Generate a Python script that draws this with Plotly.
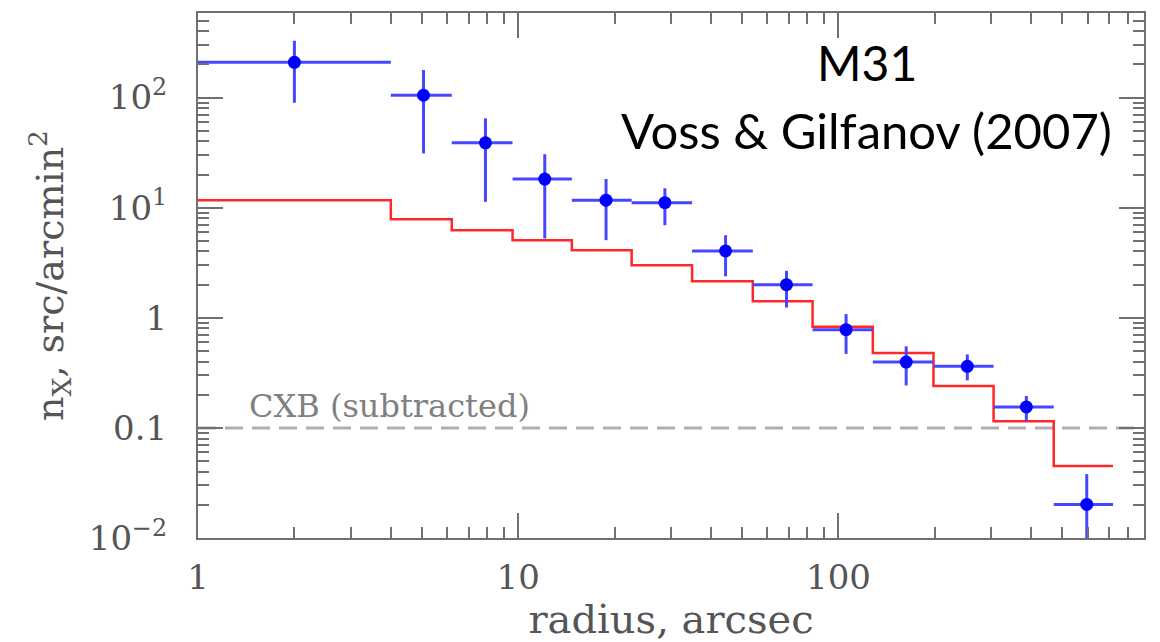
import plotly.graph_objects as go

# Bin edges (arcsec) shared by data points and model histogram
bin_edges = [1, 4.0, 6.2, 9.6, 14.7, 22.6, 34.9, 54.0, 83.0, 128, 198, 305, 470, 720]
# Observed density (blue points)
x_center = [2.0, 5.06, 7.9, 12.1, 18.8, 28.7, 44.4, 68.8, 105.6, 162.7, 252.5, 386, 596]
y_obs = [209, 105, 38.8, 18.2, 11.7, 11.1, 4.05, 2.0, 0.78, 0.396, 0.362, 0.155, 0.0202]
y_obs_hi = [328, 178, 64.7, 30.6, 18.2, 15.0, 5.62, 2.67, 1.08, 0.55, 0.465, 0.195, 0.038]
y_obs_lo = [89.7, 31.1, 11.3, 5.25, 5.07, 6.93, 2.38, 1.24, 0.47, 0.243, 0.27, 0.115, 0.008]
# Model (red histogram)
y_model = [11.7, 7.85, 6.24, 5.07, 4.11, 3.0, 2.15, 1.41, 0.83, 0.48, 0.24, 0.115, 0.045]
cxb_level = 0.1

x_tickvals = [1, 10, 100]
x_ticktext = ["1", "10", "100"]
y_tickvals = [0.01, 0.1, 1, 10, 100]
y_ticktext = ["10<sup>\u22122</sup>", "0.1", "1", "10<sup>1</sup>", "10<sup>2</sup>"]

gray_axis = "#707070"
gray_text = "#555555"
serif = "DejaVu Serif"

fig = go.Figure()

fig.add_trace(go.Scatter(
    x=bin_edges, y=y_model + [y_model[-1]],
    mode="lines", line=dict(color="rgb(255,40,40)", width=2.5, shape="hv"),
    showlegend=False, hoverinfo="skip",
))

fig.add_trace(go.Scatter(
    x=x_center, y=y_obs, mode="markers",
    marker=dict(color="#0000ff", size=13),
    error_x=dict(type="data", symmetric=False,
                 array=[hi - c for hi, c in zip(bin_edges[1:], x_center)],
                 arrayminus=[c - lo for lo, c in zip(bin_edges[:-1], x_center)],
                 color="rgb(70,70,255)", thickness=3, width=0),
    error_y=dict(type="data", symmetric=False,
                 array=[h - v for h, v in zip(y_obs_hi, y_obs)],
                 arrayminus=[v - l for l, v in zip(y_obs_lo, y_obs)],
                 color="rgb(70,70,255)", thickness=3, width=0),
    showlegend=False,
))

fig.add_shape(type="line", xref="paper", x0=0, x1=1, yref="y", y0=cxb_level, y1=cxb_level,
              line=dict(color="#b0b0b0", width=3, dash="18px,9px"), layer="below")

fig.add_annotation(text="CXB (subtracted)", xref="paper", yref="paper", x=0.052, y=0.2505,
                   xanchor="left", yanchor="middle", showarrow=False,
                   font=dict(family=serif, size=32, color="#808080"))
fig.add_annotation(text="M31", xref="paper", yref="paper", x=0.707, y=0.905,
                   xanchor="center", yanchor="middle", showarrow=False,
                   font=dict(family="Lato", size=48, color="black"))
fig.add_annotation(text="Voss &amp; Gilfanov (2007)", xref="paper", yref="paper", x=0.707, y=0.778,
                   xanchor="center", yanchor="middle", showarrow=False,
                   font=dict(family="Lato", size=49, color="black"))

axis_common = dict(
    type="log", showgrid=False, zeroline=False,
    showline=True, linecolor=gray_axis, linewidth=2, mirror="ticks",
    ticks="inside", ticklen=25, tickwidth=2, tickcolor=gray_axis,
    minor=dict(ticks="inside", ticklen=11, tickwidth=2, tickcolor=gray_axis, dtick="D1", showgrid=False),
    tickfont=dict(family=serif, size=34, color=gray_text),
)

fig.update_xaxes(**axis_common, range=[0, 2.954], tickvals=x_tickvals, ticktext=x_ticktext,
                 ticklabelstandoff=8,
                 title=dict(text="radius, arcsec", font=dict(family=serif, size=40, color=gray_text), standoff=22))
fig.update_yaxes(**axis_common, range=[-2, 2.768], tickvals=y_tickvals, ticktext=y_ticktext,
                 ticklabelstandoff=22,
                 title=dict(text="n<sub>X</sub>, src/arcmin<sup>2</sup>",
                            font=dict(family=serif, size=38, color=gray_text), standoff=14))

# The page body has an 8px default margin, so the figure is 8px smaller
fig.update_layout(
    width=1152, height=634,
    margin=dict(l=190, r=16, t=5, b=104, autoexpand=False),
    plot_bgcolor="white", paper_bgcolor="white",
)

fig.write_html("out.html")
